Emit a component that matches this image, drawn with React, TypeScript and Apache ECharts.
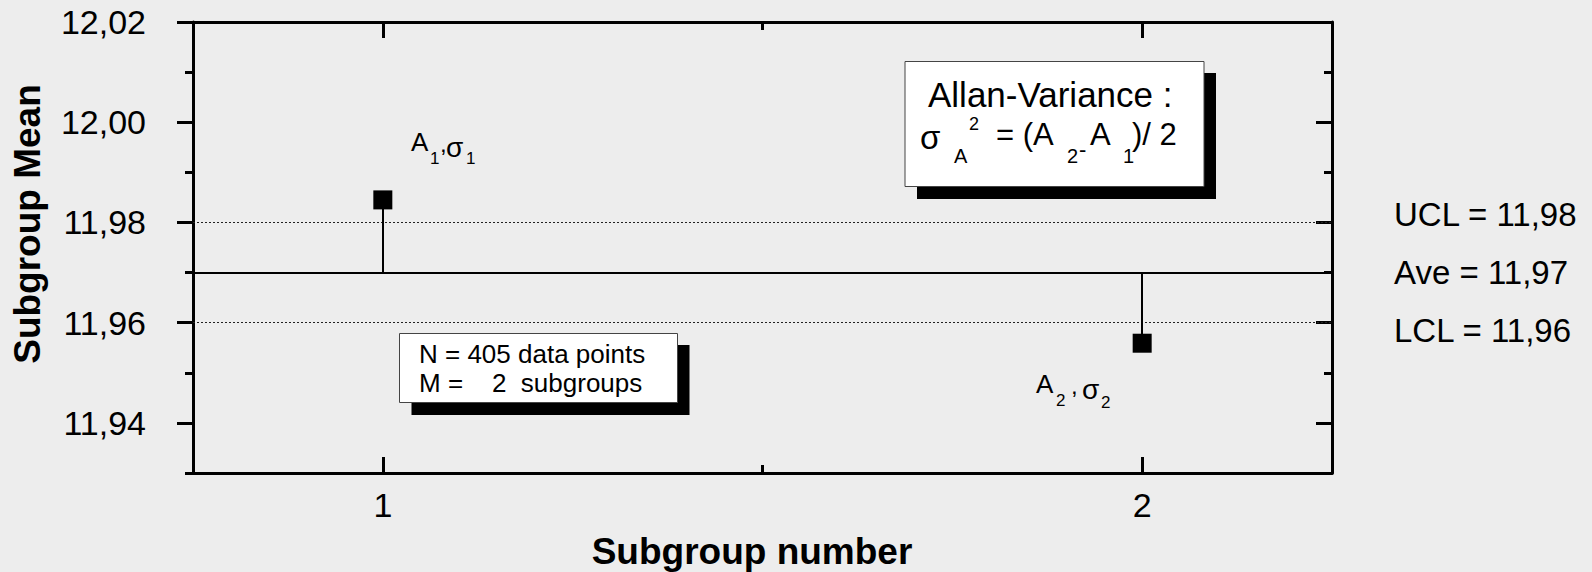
import React, { useEffect, useRef } from "react";
import * as echarts from "echarts";

// ---------- data ----------
const subgroups = [1, 2];
const subgroupMeans = [11.9845, 11.9559];
const limitNames = ["UCL", "Ave", "LCL"];
const limitValues = [11.9766, 11.9701, 11.9634];
const xRange = [0.75, 2.25];
const yRange = [11.93, 12.02];
const xMajorTicks = [1, 2];
const xMinorTicks = [1.5];
const yMajorTicks = [11.94, 11.96, 11.98, 12.0, 12.02];
const yMinorTicks = [11.93, 11.95, 11.97, 11.99, 12.01];
const xAxisTitle = "Subgroup number";
const yAxisTitle = "Subgroup Mean";
const infoLines = ["N = 405 data points", "M =    2  subgroups"];
const allanTitle = "Allan-Variance :";

const FONT = 'Arial, "Liberation Sans", Helvetica, sans-serif';
const fmt = (v: number) => v.toFixed(2).replace(".", ",");

const axisLineStyle = { show: true, lineStyle: { color: "#000", width: 3 } };

function xAxisDef(position: string, ticks: number[], len: number, showLine: boolean, showLabel: boolean) {
  return {
    type: "value",
    position,
    min: xRange[0],
    max: xRange[1],
    axisLine: showLine ? axisLineStyle : { show: false },
    axisTick: { show: true, inside: true, length: len, customValues: ticks, lineStyle: { color: "#000", width: 3 } },
    axisLabel: showLabel
      ? { show: true, customValues: ticks, fontSize: 34, color: "#000", fontFamily: FONT, margin: 15, formatter: (v: number) => String(v) }
      : { show: false },
    splitLine: { show: false },
  };
}

function yAxisDef(position: string, ticks: number[], len: number, inside: boolean, showLine: boolean, showLabel: boolean) {
  return {
    type: "value",
    position,
    min: yRange[0],
    max: yRange[1],
    axisLine: showLine ? axisLineStyle : { show: false },
    axisTick: { show: true, inside, length: len, customValues: ticks, lineStyle: { color: "#000", width: 3 } },
    axisLabel: showLabel
      ? { show: true, customValues: ticks, fontSize: 34, color: "#000", fontFamily: FONT, margin: 47, formatter: fmt }
      : { show: false },
    splitLine: { show: false },
  };
}

function txt(x: number, y: number, text: string, fontSize: number, extra: any = {}, el: any = {}) {
  return {
    type: "text",
    x,
    y,
    z: 20,
    ...el,
    style: { text, fontSize, fontFamily: FONT, fill: "#000", align: "left", verticalAlign: "middle", ...extra },
  };
}

export default function App() {
  const ref = useRef<HTMLDivElement>(null);

  useEffect(() => {
    if (!ref.current) return;
    const chart = echarts.init(ref.current, null, { renderer: "svg" });
    const ave = limitValues[1];

    const markData: any[] = [
      { yAxis: limitValues[1], lineStyle: { type: "solid", width: 2, color: "#000" } },
      { yAxis: limitValues[0], lineStyle: { type: [2, 2], width: 1, color: "#222" } },
      { yAxis: limitValues[2], lineStyle: { type: [2, 2], width: 1, color: "#222" } },
      ...subgroups.map((s, i) => [
        { coord: [s, subgroupMeans[i]], lineStyle: { type: "solid", width: 2, color: "#000" } },
        { coord: [s, ave] },
      ]),
    ];

    const graphic: any[] = [
      // axis titles
      txt(27, 224, yAxisTitle, 37, { fontWeight: "bold", align: "center" }, { rotation: Math.PI / 2 }),
      txt(752, 551, xAxisTitle, 37, { fontWeight: "bold", align: "center" }),
      // A1, sigma1
      txt(411, 142, "A", 26),
      txt(430, 158, "1", 17),
      txt(440, 143, ",", 24),
      txt(446, 147, "σ", 28),
      txt(466, 158, "1", 17),
      // A2, sigma2
      txt(1036, 384, "A", 26),
      txt(1056, 400, "2", 17),
      txt(1071, 385, ",", 24),
      txt(1082, 389, "σ", 28),
      txt(1101, 402, "2", 17),
      // Allan box
      { type: "rect", z: 15, shape: { x: 917, y: 73, width: 299, height: 126 }, style: { fill: "#000" } },
      { type: "rect", z: 16, shape: { x: 905, y: 61.5, width: 299, height: 125 }, style: { fill: "#fff", stroke: "#444", lineWidth: 1 } },
      txt(928, 94, allanTitle, 35),
      txt(920, 137, "σ", 33),
      txt(969, 124, "2", 18),
      txt(954, 156, "A", 20),
      txt(996, 134, "= (A", 31),
      txt(1067, 156, "2", 20),
      txt(1079, 149, "-", 22),
      txt(1090, 134, "A", 31),
      txt(1123, 156, "1", 20),
      txt(1132, 134, ")/ 2", 31),
      // info box
      { type: "rect", z: 15, shape: { x: 411.5, y: 345, width: 278, height: 70 }, style: { fill: "#000" } },
      { type: "rect", z: 16, shape: { x: 399.5, y: 333.5, width: 278, height: 69 }, style: { fill: "#fff", stroke: "#444", lineWidth: 1 } },
      txt(419, 354, infoLines[0], 26),
      txt(419, 383, infoLines[1], 26),
      // limit labels
      ...limitNames.map((n, i) => txt(1394, 214 + i * 58, `${n} = ${fmt(limitValues[i])}`, 33)),
    ];

    chart.setOption({
      animation: false,
      backgroundColor: "#ededed",
      grid: { left: 193, right: 260, top: 22, bottom: 99, containLabel: false },
      xAxis: [
        xAxisDef("bottom", xMajorTicks, 16, true, true),
        xAxisDef("bottom", xMinorTicks, 8, false, false),
        xAxisDef("top", xMajorTicks, 16, true, false),
        xAxisDef("top", xMinorTicks, 8, false, false),
      ],
      yAxis: [
        yAxisDef("left", yMajorTicks, 16, false, true, true),
        yAxisDef("left", yMinorTicks, 8, false, false, false),
        yAxisDef("right", yMajorTicks, 16, true, true, false),
        yAxisDef("right", yMinorTicks, 8, true, false, false),
      ],
      series: [
        {
          type: "scatter",
          xAxisIndex: 0,
          yAxisIndex: 0,
          symbol: "rect",
          symbolSize: 19,
          itemStyle: { color: "#000", opacity: 1 },
          z: 5,
          data: subgroups.map((s, i) => [s, subgroupMeans[i]]),
          markLine: {
            silent: true,
            symbol: ["none", "none"],
            label: { show: false },
            z: 3,
            data: markData,
          },
        },
      ],
      graphic,
    });

    return () => chart.dispose();
  }, []);

  return (
    <div
      ref={ref}
      style={{ position: "fixed", left: 0, top: 0, width: "1592px", height: "572px" }}
    />
  );
}
